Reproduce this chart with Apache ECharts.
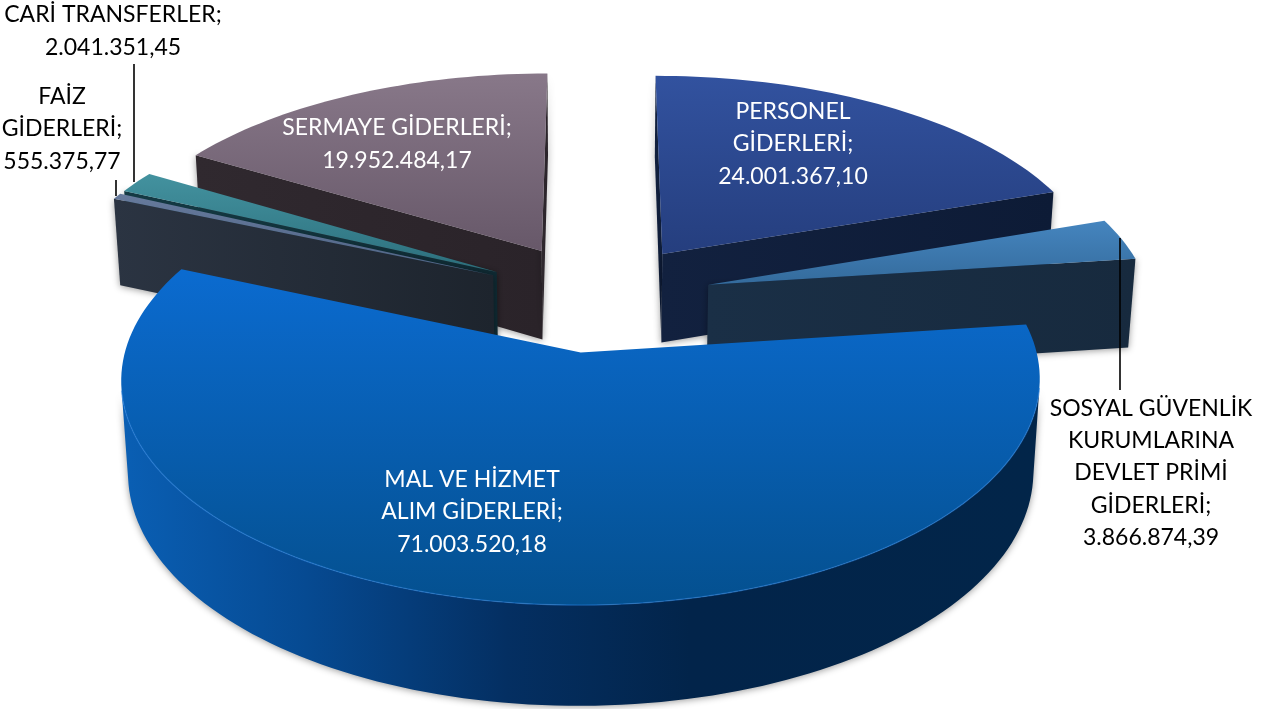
<!DOCTYPE html>
<html><head><meta charset="utf-8">
<style>html,body{margin:0;padding:0;background:#fff}#c{width:1262px;height:709px}</style>
<script src="https://cdn.jsdelivr.net/npm/echarts@6/dist/echarts.min.js"></script>
</head><body><div id="c"></div>
<script>
const categories = ['PERSONEL\nGİDERLERİ','SOSYAL GÜVENLİK\nKURUMLARINA\nDEVLET PRİMİ\nGİDERLERİ','MAL VE HİZMET\nALIM GİDERLERİ','FAİZ\nGİDERLERİ','CARİ TRANSFERLER','SERMAYE GİDERLERİ'];
const values = [24001367.10, 3866874.39, 71003520.18, 555375.77, 2041351.45, 19952484.17];

// styling & layout (not data)
const topColors  = [['#32529f','#253e7e'],['#4585bf','#346b9c'],['#0b6bd0','#04508f'],['#667a9c','#4f6385'],['#43929f','#2c6f7c'],['#887889','#675869']];
const wallColors = [['#12213f','#0d1b36'],['#1a2f46','#172a3e'],['#0a5fb4','#02234a'],['#2b3442','#1d242d'],['#143a44','#0f2a33'],['#30292f','#2a2329']];
const paintOrder = [1,4,5,3,2,0]; // per slice: back to front
const labelAt = [[793,144],[1151,473],[472,512],[62,129],[113,31],[397,144]];
const labelColor = ['#fff','#000','#fff','#000','#000','#fff'];
const leaders = {1:[1120,238,1120,390],3:[116,180,116,196],4:[134,64,134,182]};

const cx=597, cy=297, R=442, EXPLODE=115, C=0.472, K=0.118, H=91.5, M=0.014, START=0;
const total = values.reduce((a,b)=>a+b,0);
const rad = d=>d*Math.PI/180;
const fmt = v=>{const [a,b]=v.toFixed(2).split('.');return a.replace(/\B(?=(\d{3})+$)/g,'.')+','+b;};

function project(X,Y,depth){
  const w = 1 - K*Y/R + M*depth;
  return [cx + X/w, cy + (Y*C + depth*H)/w];
}
function shoelace(p){let s=0;for(let i=0;i<p.length;i++){const a=p[i],b=p[(i+1)%p.length];s+=a[0]*b[1]-b[0]*a[1];}return s;}
function grad(c,vert){return {type:'linear',x:0,y:0,x2:vert?0:1,y2:vert?1:0,colorStops:[{offset:0,color:c[0]},{offset:1,color:c[1]}]};}

function renderItem(params, api){
  const i = params.dataIndex;
  let before = 0; for(let j=0;j<i;j++) before += values[j];
  const a0 = START + before/total*360;
  const a1 = a0 + api.value(0)/total*360;
  const mid = rad((a0+a1)/2);
  const ox = EXPLODE*Math.sin(mid), oy = -EXPLODE*Math.cos(mid);
  const pt=(deg,r,d)=>project(ox+r*Math.sin(rad(deg)), oy-r*Math.cos(rad(deg)), d);
  const n = Math.max(2,Math.ceil((a1-a0)/1.5));
  const rim=[]; for(let k=0;k<=n;k++) rim.push(a0+(a1-a0)*k/n);
  const base = paintOrder[i]*10;
  const shadow = {shadowBlur:7,shadowColor:'rgba(0,0,0,0.4)',shadowOffsetY:1};
  const kids=[];
  const wall=(deg,sign)=>{
    const p=[pt(deg,0,0),pt(deg,R,0),pt(deg,R,1),pt(deg,0,1)];
    if(sign*shoelace(p)>0) kids.push({type:'polygon',z2:base+1,shape:{points:p},style:Object.assign({fill:grad(wallColors[i])},shadow)});
  };
  wall(a0,-1); wall(a1,1);
  const tops=[],bots=[];
  for(let k=0;k<n;k++){
    const q=[pt(rim[k],R,0),pt(rim[k+1],R,0),pt(rim[k+1],R,1),pt(rim[k],R,1)];
    if(shoelace(q)<0){ if(!tops.length){tops.push(q[0]);bots.push(q[3]);} tops.push(q[1]);bots.push(q[2]); }
  }
  if(tops.length){
    kids.push({type:'polygon',z2:base+2,shape:{points:tops.concat(bots.slice().reverse())},
      style:Object.assign({fill:i===2?{type:'linear',x:0,y:0,x2:1,y2:0,colorStops:[
        {offset:0,color:'#0a5fb4'},{offset:0.2,color:'#064a92'},{offset:0.42,color:'#042f62'},{offset:0.62,color:'#02244a'},{offset:1,color:'#022549'}]}:grad(wallColors[i])},shadow)});
  }
  const face=[pt(a0,0,0)]; rim.forEach(d=>face.push(pt(d,R,0)));
  kids.push({type:'polygon',z2:base+3,shape:{points:face},style:{fill:grad(topColors[i],true)}});
  if(tops.length){
    kids.push({type:'polyline',z2:base+4,shape:{points:tops},style:{fill:null,stroke:'rgba(40,130,225,0.5)',lineWidth:1.4}});
  }
  if(leaders[i]){const l=leaders[i];
    kids.push({type:'line',z2:base+5,shape:{x1:l[0],y1:l[1],x2:l[2],y2:l[3]},style:{stroke:'#000',lineWidth:1.6}});
  }
  kids.push({type:'text',z2:100+i,style:{text:categories[i]+';\n'+fmt(api.value(0)),x:labelAt[i][0],y:labelAt[i][1],
    fill:labelColor[i],font:'23px Lato',textAlign:'center',textVerticalAlign:'middle',lineHeight:32.4}});
  return {type:'group',children:kids};
}

const chart = echarts.init(document.getElementById('c'),null,{renderer:'canvas'});
chart.setOption({
  animation:false,
  backgroundColor:'#fff',
  series:[{type:'custom',coordinateSystem:'none',renderItem,silent:true,
    data:values.map((v,i)=>({name:categories[i],value:[v,i]}))}]
});
</script></body></html>
